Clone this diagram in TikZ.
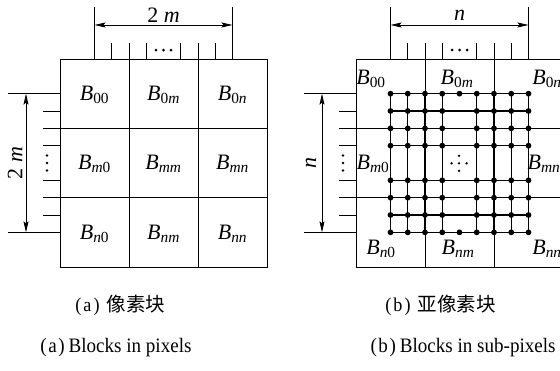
\documentclass[tikz,border=0pt]{standalone}
\usepackage{amsmath}
\usepackage{fontspec}
\setmainfont{Liberation Serif}
\newfontfamily\capfont[FakeStretch=0.93]{Liberation Serif}
\newfontfamily\capcjk{Noto Sans CJK SC}
\usetikzlibrary{arrows.meta}
\newcommand\blk[1]{$\textit{B}_{#1}$}
\newcommand\rmx[1]{\textup{#1}}
\newcommand\itx[1]{\textit{#1}}
\newcommand\drawframe[2]{%
  \draw (0,0) rectangle (207,208);
  \foreach \j in {4,8} {
    \draw (17.25*\j,-16) -- (17.25*\j,208);
    \draw (-17,17.333*\j) -- (207,17.333*\j);
  }
  \foreach \j in {3,5,7,9} {
    \draw (17.25*\j,-16) -- (17.25*\j,0);
    \draw (-17,17.333*\j) -- (0,17.333*\j);
  }
  \foreach \j in {2,10} {
    \draw (17.25*\j,-52) -- (17.25*\j,0);
    \draw (-52,17.333*\j) -- (0,17.333*\j);
  }
  \coordinate (#1ta) at (34.5,-34);
  \coordinate (#1tb) at (172.5,-34);
  \draw[dimline] (#1ta) -- (#1tb);
  \coordinate (#1la) at (-34,34.667);
  \coordinate (#1lb) at (-34,173.333);
  \draw[dimline] (#1la) -- (#1lb);
  \foreach \d in {-7.5,0,7.5} {
    \fill (103.5+\d,-9) circle (1.5pt);
    \fill (-13,104+\d) circle (1.4pt);
  }
  \node[dimlbl] (#1tl) at (103.5,-44) {#2};
  \node[dimlbl,rotate=90] (#1ll) at (-45,104) {#2};
}
\begin{document}
\begin{tikzpicture}[x=1pt,y=-1pt,line width=0.9pt,
  dimline/.style={line width=0.8pt,{Stealth[length=11pt,width=5pt,inset=2pt]}-{Stealth[length=11pt,width=5pt,inset=2pt]}},
  lbl/.style={font=\fontsize{22}{24}\selectfont, inner sep=0pt},
  dimlbl/.style={font=\fontsize{22}{24}\selectfont, inner sep=0pt},
  capline/.style={font=\capfont\fontsize{20.5}{24}\selectfont, inner sep=0pt},
  cjkline/.style={font=\capfont\fontsize{19.5}{24}\selectfont, inner sep=0pt},
]
\useasboundingbox (0,0) rectangle (560,370);
% ---------- left panel
\begin{scope}[shift={(60,59)}]
  \drawframe{a}{2 \textit{m}}
  \node[lbl] (a00) at (34.5,36) {\blk{\rmx{00}}};
  \node[lbl] (a0m) at (103.5,36) {\blk{\rmx{0}\itx{m}}};
  \node[lbl] (a0n) at (172.5,36) {\blk{\rmx{0}\itx{n}}};
  \node[lbl] (am0) at (34.5,105) {\blk{\itx{m}\rmx{0}}};
  \node[lbl] (amm) at (103.5,105) {\blk{\itx{mm}}};
  \node[lbl] (amn) at (172.5,105) {\blk{\itx{mn}}};
  \node[lbl] (an0) at (34.5,175) {\blk{\itx{n}\rmx{0}}};
  \node[lbl] (anm) at (103.5,175) {\blk{\itx{nm}}};
  \node[lbl] (ann) at (172.5,175) {\blk{\itx{nn}}};
\end{scope}
% ---------- right panel
\begin{scope}[shift={(356,59)}]
  \drawframe{b}{\textit{n}}
  \foreach \j in {2,3,4,5,7,8,9,10} {
    \draw[line width=1.2pt] (34.5,17.333*\j) -- (172.5,17.333*\j);
    \draw[line width=1.2pt] (17.25*\j,34.667) -- (17.25*\j,173.333);
    \foreach \k in {2,3,4,5,7,8,9,10} \fill (17.25*\j,17.333*\k) circle (2.9pt);
  }
  \fill (103.5,34.667) circle (2.9pt);
  \fill (103.5,173.333) circle (2.9pt);
  \foreach \p in {(-7.5,0),(0,-7.5),(0,0),(0,7.5),(7.5,0)}
    \fill[shift={(103,104.3)}] \p circle (1.3pt);
  \node[lbl] (b00) at (15,20) {\blk{\rmx{00}}};
  \node[lbl] (b0m) at (101,20) {\blk{\rmx{0}\itx{m}}};
  \node[lbl] (b0n) at (191,20) {\blk{\rmx{0}\itx{n}}};
  \node[lbl] (bm0) at (17,105) {\blk{\itx{m}\rmx{0}}};
  \node[lbl] (bmn) at (188,105) {\blk{\itx{mn}}};
  \node[lbl] (bn0) at (25,190) {\blk{\itx{n}\rmx{0}}};
  \node[lbl] (bnm) at (102,190) {\blk{\itx{nm}}};
  \node[lbl] (bnn) at (191,190) {\blk{\itx{nn}}};
\end{scope}
% ---------- captions
\node[cjkline,anchor=base west] (ca1) at (75,311) {(\kern2pt a\kern2pt)\kern7pt{\capcjk 像素块}};
\node[capline,anchor=base west] (ce1) at (40,352) {(\kern1.5pt a\kern1.5pt)\kern4pt Blocks in pixels};
\node[cjkline,anchor=base west] (ca2) at (385,311) {(\kern2pt b\kern2pt)\kern7pt{\capcjk 亚像素块}};
\node[capline,anchor=base east] (ce2) at (556,352) {(\kern1.5pt b\kern1.5pt)\kern4pt Blocks in sub-pixels};
\end{tikzpicture}
\end{document}
